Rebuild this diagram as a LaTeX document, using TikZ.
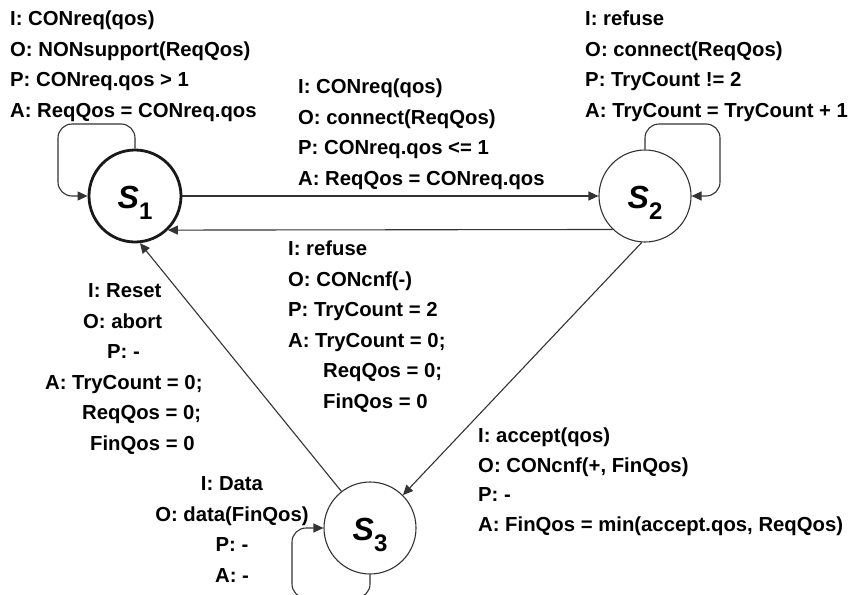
\documentclass[tikz,border=0pt]{standalone}
\usepackage{fontspec}
\setmainfont{Liberation Sans}
\usetikzlibrary{arrows.meta}
\newcommand\stlab[1]{{\fontsize{32}{32}\selectfont\bfseries\itshape S}\raisebox{-11pt}{\fontsize{24}{24}\selectfont\bfseries #1}}
\begin{document}
\begin{tikzpicture}[x=1pt,y=-1pt,
  state/.style={circle, draw=black!80, line width=1.1pt, minimum size=92pt, inner sep=0pt, fill=white, text height=24pt, text depth=0pt},
  edge/.style={draw=black!80, line width=1.1pt, -{Triangle[length=10pt,width=9pt]}},
  loopedge/.style={edge, rounded corners=14pt},
  lbl/.style={inner sep=0pt, align=left, anchor=north west, font=\fontsize{20.3}{30.5}\selectfont\bfseries, text=black},
  lblc/.style={lbl, align=center, anchor=north},
]
\useasboundingbox (0,0) rectangle (850,594);

\node[state, line width=2.8pt, draw=black!90] (S1) at (135,196) {\stlab{1}};
\node[state] (S2) at (645,196) {\stlab{2}};
\node[state] (S3) at (370,528) {\stlab{3}};

\coordinate (c1) at (58,124);
\coordinate (c2) at (720,124);
\coordinate (c3) at (292,598);

\draw[loopedge] (S1.north) |- (c1) |- (S1.west);
\draw[loopedge] (S2.north) |- (c2) |- (S2.east);
\draw[loopedge] (S3.south) |- (c3) |- (S3.west);

\draw[edge] (S1.east) -- (S2.west);
\draw[edge] (S2.226) -- (S1.314);
\draw[edge] (S3.128) -- (S1.276);
\draw[edge] (S2.266) -- (S3.45);

\node[lbl] (t1) at (10,4) {\strut I: CONreq(qos)\\ O: NONsupport(ReqQos)\\ P: CONreq.qos > 1\\ A: ReqQos = CONreq.qos};
\node[lbl] (t2) at (298,72) {\strut I: CONreq(qos)\\ O: connect(ReqQos)\\ P: CONreq.qos <= 1\\ A: ReqQos = CONreq.qos};
\node[lbl] (t3) at (585,4) {\strut I: refuse\\ O: connect(ReqQos)\\ P: TryCount != 2\\ A: TryCount = TryCount + 1};
\node[lbl] (t4) at (288,234) {\strut I: refuse\\ O: CONcnf(-)\\ P: TryCount = 2\\ A: TryCount = 0;\\ \hspace*{35pt}ReqQos = 0;\\ \hspace*{35pt}FinQos = 0};
\node[lbl] (t5) at (45,276) {\strut\hspace*{43pt}I: Reset\\ \hspace*{38pt}O: abort\\ \hspace*{62pt}P: -\\ A: TryCount = 0;\\ \hspace*{37pt}ReqQos = 0;\\ \hspace*{45pt}FinQos = 0};
\node[lbl, font=\fontsize{20.3}{29.5}\selectfont\bfseries] (t6) at (478,422) {\strut I: accept(qos)\\ O: CONcnf(+, FinQos)\\ P: -\\ A: FinQos = min(accept.qos, ReqQos)};
\node[lblc] (t7) at (232,469) {\strut I: Data\\ O: data(FinQos)\\ P: -\\ A: -};
\end{tikzpicture}
\end{document}
